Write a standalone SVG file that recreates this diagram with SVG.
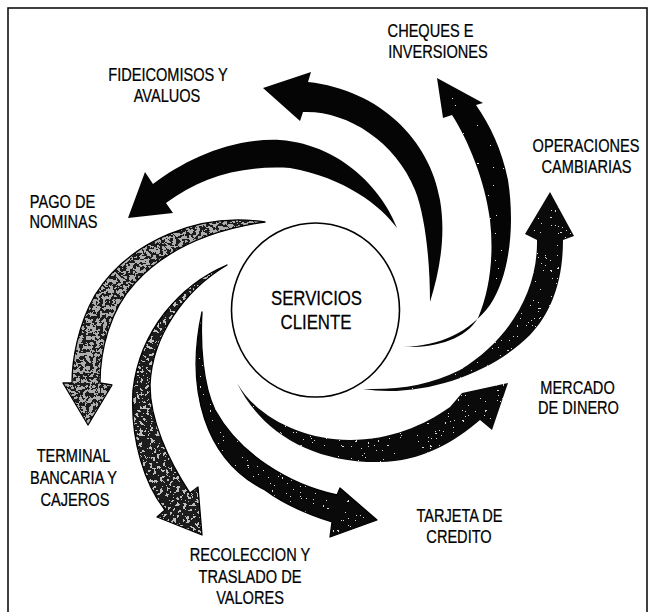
<svg xmlns="http://www.w3.org/2000/svg" xmlns:xlink="http://www.w3.org/1999/xlink" width="653" height="612" viewBox="0 0 653 612">
  <style>
    .lbl { font-family: "Liberation Sans", Arial, sans-serif; font-size: 18px; fill: #000; stroke: #000; stroke-width: 0.25; text-anchor: middle; }
    .hub { font-family: "Liberation Sans", Arial, sans-serif; font-size: 21px; fill: #000; stroke: #000; stroke-width: 0.25; text-anchor: middle; }
    .solid { fill: #050505; }
    .dark { fill: #0a0a0a; }
    .grey { fill: #1c1c1c; }
    .edge { fill: none; stroke: #000; stroke-width: 1.3; stroke-linejoin: round; }
    .frame { fill: none; stroke: #111; stroke-width: 1.6; }
  </style>
  <defs>
    <!-- speckle textures: thresholded noise clipped to the arrow body -->
    <filter id="speck-few" x="-5%" y="-5%" width="110%" height="110%" color-interpolation-filters="sRGB">
      <feTurbulence type="fractalNoise" baseFrequency="0.4" numOctaves="2" seed="3" result="noise"/>
      <feColorMatrix in="noise" type="matrix" values="0 0 0 0 1  0 0 0 0 1  0 0 0 0 1  1 0 0 0 0" result="wn"/>
      <feComponentTransfer in="wn" result="spots"><feFuncA type="discrete" tableValues="0 0 0 0 0 0 0 0 0 0 0 0 0 0 0 0 0.9 0.9 0.9 0.9"/></feComponentTransfer>
      <feComposite in="spots" in2="SourceGraphic" operator="in" result="clip"/>
      <feMerge><feMergeNode in="SourceGraphic"/><feMergeNode in="clip"/></feMerge>
    </filter>
    <filter id="speck-some" x="-5%" y="-5%" width="110%" height="110%" color-interpolation-filters="sRGB">
      <feTurbulence type="fractalNoise" baseFrequency="0.4" numOctaves="2" seed="11" result="noise"/>
      <feColorMatrix in="noise" type="matrix" values="0 0 0 0 1  0 0 0 0 1  0 0 0 0 1  1 0 0 0 0" result="wn"/>
      <feComponentTransfer in="wn" result="spots"><feFuncA type="discrete" tableValues="0 0 0 0 0 0 0 0 0 0 0 0 0 0 0 0.85 0.85 0.85 0.85 0.85"/></feComponentTransfer>
      <feComposite in="spots" in2="SourceGraphic" operator="in" result="clip"/>
      <feMerge><feMergeNode in="SourceGraphic"/><feMergeNode in="clip"/></feMerge>
    </filter>
    <filter id="speck-mid" x="-5%" y="-5%" width="110%" height="110%" color-interpolation-filters="sRGB">
      <feTurbulence type="fractalNoise" baseFrequency="0.4" numOctaves="2" seed="17" result="noise"/>
      <feColorMatrix in="noise" type="matrix" values="0 0 0 0 1  0 0 0 0 1  0 0 0 0 1  1 0 0 0 0" result="wn"/>
      <feComponentTransfer in="wn" result="spots"><feFuncA type="discrete" tableValues="0 0 0 0 0 0 0 0 0 0 0 0 0 0 0 0.85 0.85 0.85 0.85 0.85"/></feComponentTransfer>
      <feComposite in="spots" in2="SourceGraphic" operator="in" result="clip"/>
      <feMerge><feMergeNode in="SourceGraphic"/><feMergeNode in="clip"/></feMerge>
    </filter>
    <filter id="grain-dark" x="-5%" y="-5%" width="110%" height="110%" color-interpolation-filters="sRGB">
      <feTurbulence type="fractalNoise" baseFrequency="0.3" numOctaves="3" seed="21" result="noise"/>
      <feColorMatrix in="noise" type="matrix" values="0 0 0 0 0.75  0 0 0 0 0.75  0 0 0 0 0.75  1 0 0 0 0" result="wn"/>
      <feComponentTransfer in="wn" result="spots"><feFuncA type="discrete" tableValues="0 0 0 0 0 0 0 0 0 0 0 0 1 1 1 1 1 1 1 1"/></feComponentTransfer>
      <feComposite in="spots" in2="SourceGraphic" operator="in" result="clip"/>
      <feMerge><feMergeNode in="SourceGraphic"/><feMergeNode in="clip"/></feMerge>
    </filter>
    <filter id="grain-light" x="-5%" y="-5%" width="110%" height="110%" color-interpolation-filters="sRGB">
      <feTurbulence type="fractalNoise" baseFrequency="0.3" numOctaves="3" seed="5" result="noise"/>
      <feColorMatrix in="noise" type="matrix" values="0 0 0 0 0.68  0 0 0 0 0.68  0 0 0 0 0.68  1 0 0 0 0" result="wn"/>
      <feComponentTransfer in="wn" result="spots"><feFuncA type="discrete" tableValues="0 0 0 0 0 0 0 0 0 0 1 1 1 1 1 1 1 1 1 1"/></feComponentTransfer>
      <feComposite in="spots" in2="SourceGraphic" operator="in" result="clip"/>
      <feMerge><feMergeNode in="SourceGraphic"/><feMergeNode in="clip"/></feMerge>
    </filter>

    <!-- spiral arrow outlines: tapered tail near the hub, block head outside -->
    <path id="p-pago" d="M397,228 C385,195 345,145 280,140 C230,138 185,160 153,184 L145,172 L128,218 L173,213 L166,203 C200,178 240,165 290,168 C345,178 380,205 397,228 Z"/>
    <path id="p-fide" d="M430,302 C440,270 446,235 440,200 C430,140 380,90 308,82 L311,72 L263,88 L300,121 L303,112 C345,110 395,140 415,190 C425,215 430,260 430,302 Z"/>
    <path id="p-cheq" d="M403,347 C440,346 470,332 490,305 C510,275 515,225 508,180 C502,150 490,125 476,105 L483,103 L437,78 L443,118 L452,115 C468,140 485,180 490,220 C494,255 490,290 478,318 C465,340 435,348 403,347 Z"/>
    <path id="p-oper" d="M363,389 C420,398 490,375 530,335 C552,312 563,280 563,240 L574,236 L550,192 L525,234 L537,240 C538,290 510,340 460,370 C430,385 400,390 363,389 Z"/>
    <path id="p-merc" d="M237,383 C255,415 300,440 350,440 C390,440 425,425 450,407 L462,393 L508,383 L492,430 L480,420 C455,442 420,462 380,462 C310,463 260,430 237,383 Z"/>
    <path id="p-tarj" d="M202,312 C185,390 205,460 265,490 C285,505 310,515 332,522 L330,537 L377,520 L340,488 L337,495 C290,485 240,455 215,410 C203,385 200,345 202,312 Z"/>
    <path id="p-reco" d="M227,265 C180,285 140,330 133,390 C130,440 145,485 165,510 L157,517 L202,535 L198,487 L190,493 C168,460 150,420 150,385 C152,335 185,290 227,265 Z"/>
    <path id="p-term" d="M265,222 C200,212 130,240 95,295 C78,325 72,360 72,383 L63,383 L88,425 L112,385 L100,383 C100,350 110,310 135,283 C165,250 210,230 265,222 Z"/>
  </defs>

  <!-- page frame -->
  <rect class="frame" x="8" y="8" width="639" height="620"/>

  <!-- spiral connectors -->
  <g id="connectors">
    <use xlink:href="#p-pago" href="#p-pago" class="solid"/>
    <use xlink:href="#p-fide" href="#p-fide" class="solid"/>
    <use xlink:href="#p-cheq" href="#p-cheq" class="solid" filter="url(#speck-few)"/>
    <use xlink:href="#p-oper" href="#p-oper" class="dark" filter="url(#speck-some)"/>
    <use xlink:href="#p-merc" href="#p-merc" class="dark" filter="url(#speck-some)"/>
    <use xlink:href="#p-tarj" href="#p-tarj" class="dark" filter="url(#speck-mid)"/>
    <use xlink:href="#p-reco" href="#p-reco" class="grey" filter="url(#grain-dark)"/>
    <use xlink:href="#p-term" href="#p-term" class="grey" filter="url(#grain-light)"/>
    <use xlink:href="#p-tarj" href="#p-tarj" class="edge"/>
    <use xlink:href="#p-reco" href="#p-reco" class="edge"/>
    <use xlink:href="#p-term" href="#p-term" class="edge"/>
  </g>

  <!-- hub -->
  <g id="servicios-cliente">
    <ellipse cx="315.5" cy="310" rx="84" ry="87" fill="#fff" stroke="#000" stroke-width="1.6"/>
    <text class="hub" transform="translate(316.5 305) scale(0.8 1)">SERVICIOS</text>
    <text class="hub" transform="translate(316 329) scale(0.8 1)">CLIENTE</text>
  </g>

  <!-- service labels -->
  <g id="cheques-inversiones">
    <text class="lbl" transform="translate(430.5 37) scale(0.81 1)">CHEQUES E</text>
    <text class="lbl" transform="translate(438 58) scale(0.81 1)">INVERSIONES</text>
  </g>
  <g id="fideicomisos-avaluos">
    <text class="lbl" transform="translate(168 81) scale(0.81 1)">FIDEICOMISOS Y</text>
    <text class="lbl" transform="translate(167 102) scale(0.81 1)">AVALUOS</text>
  </g>
  <g id="operaciones-cambiarias">
    <text class="lbl" transform="translate(586 152) scale(0.81 1)">OPERACIONES</text>
    <text class="lbl" transform="translate(586.5 173) scale(0.81 1)">CAMBIARIAS</text>
  </g>
  <g id="pago-nominas">
    <text class="lbl" transform="translate(62.5 208) scale(0.81 1)">PAGO DE</text>
    <text class="lbl" transform="translate(63.5 228) scale(0.81 1)">NOMINAS</text>
  </g>
  <g id="mercado-dinero">
    <text class="lbl" transform="translate(577.5 394) scale(0.81 1)">MERCADO</text>
    <text class="lbl" transform="translate(578.5 414) scale(0.81 1)">DE DINERO</text>
  </g>
  <g id="terminal-cajeros">
    <text class="lbl" transform="translate(73.5 462) scale(0.81 1)">TERMINAL</text>
    <text class="lbl" transform="translate(73.5 484) scale(0.81 1)">BANCARIA Y</text>
    <text class="lbl" transform="translate(75 506) scale(0.81 1)">CAJEROS</text>
  </g>
  <g id="tarjeta-credito">
    <text class="lbl" transform="translate(459.5 522) scale(0.81 1)">TARJETA DE</text>
    <text class="lbl" transform="translate(459 543) scale(0.81 1)">CREDITO</text>
  </g>
  <g id="recoleccion-valores">
    <text class="lbl" transform="translate(250 561) scale(0.81 1)">RECOLECCION Y</text>
    <text class="lbl" transform="translate(250 583) scale(0.81 1)">TRASLADO DE</text>
    <text class="lbl" transform="translate(250 604) scale(0.81 1)">VALORES</text>
  </g>
</svg>
